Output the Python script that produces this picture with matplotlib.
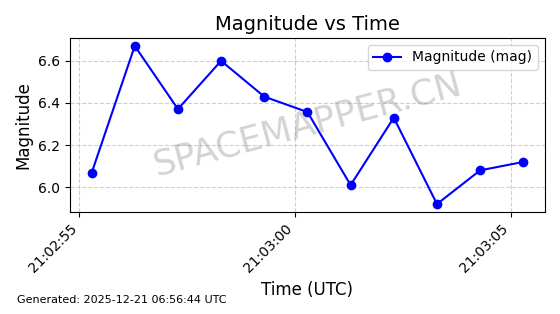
import pandas as pd
import matplotlib.pyplot as plt
import matplotlib.dates as mdates

# Datos
tiempos = pd.to_datetime([
    "2025-12-20 21:02:55.28",
    "2025-12-20 21:02:56.28",
    "2025-12-20 21:02:57.28",
    "2025-12-20 21:02:58.28",
    "2025-12-20 21:02:59.28",
    "2025-12-20 21:03:00.28",
    "2025-12-20 21:03:01.28",
    "2025-12-20 21:03:02.28",
    "2025-12-20 21:03:03.28",
    "2025-12-20 21:03:04.28",
    "2025-12-20 21:03:05.28",
])
magnitudes = [6.067, 6.671, 6.371, 6.60, 6.43, 6.357, 6.01, 6.33, 5.92, 6.08, 6.12]

fig = plt.figure(figsize=(5.6, 3.14), dpi=100)
ax = fig.add_axes([0.125, 0.325, 0.848, 0.554])

ax.plot(tiempos, magnitudes, color="blue", marker="o", label="Magnitude (mag)")

ax.set_title("Magnitude vs Time", fontsize=14)
ax.set_xlabel("Time (UTC)", fontsize=12)
ax.set_ylabel("Magnitude", fontsize=12)
ax.grid(True, linestyle="--", alpha=0.6)
ax.legend(loc="upper right")

ax.xaxis.set_major_locator(mdates.SecondLocator(bysecond=range(0, 60, 5)))
ax.xaxis.set_major_formatter(mdates.DateFormatter("%H:%M:%S"))
plt.setp(ax.get_xticklabels(), rotation=45, ha="right")

# Marca de agua
ax.text(0.5, 0.5, "SPACEMAPPER.CN", transform=ax.transAxes, fontsize=25.5,
        color="gray", alpha=0.35, rotation=15, ha="center", va="center")

fig.text(0.03, 0.03, "Generated: 2025-12-21 06:56:44 UTC", fontsize=8, ha="left", va="bottom")

fig.savefig("out.png", dpi=100)
plt.close()
